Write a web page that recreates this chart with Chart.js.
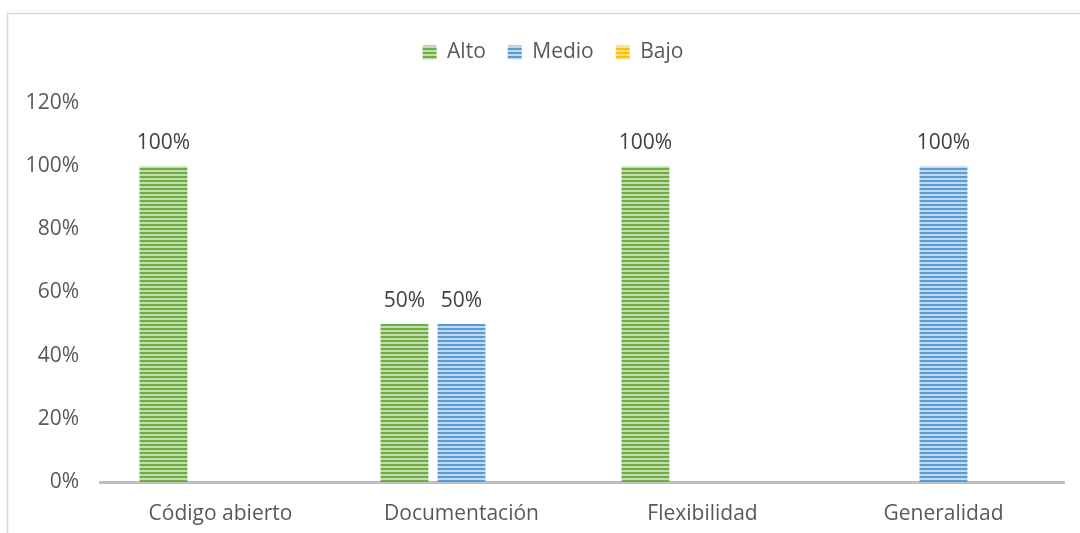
<!DOCTYPE html>
<html>
<head>
<meta charset="utf-8">
<script src="https://cdn.jsdelivr.net/npm/chart.js@4.4.1/dist/chart.umd.min.js"></script>
<style>
  html, body { margin: 0; padding: 0; background: #ffffff; }
  #wrap { position: relative; width: 1080px; height: 533px; }
</style>
</head>
<body>
<div id="wrap"><canvas id="c" width="1080" height="533"></canvas></div>
<script>
// Categories and per-level shares
const categories = ['Código abierto', 'Documentación', 'Flexibilidad', 'Generalidad'];
const alto  = [1.0, 0.5, 1.0, 0.0];
const medio = [0.0, 0.5, 0.0, 1.0];
const bajo  = [0.0, 0.0, 0.0, 0.0];
const seriesNames = ['Alto', 'Medio', 'Bajo'];

const FONT = '"Open Sans", Lato, sans-serif';
const FONT_SIZE = 21;

// Horizontal stripe fill for the bars
function stripes(dark, light) {
  const p = document.createElement('canvas');
  p.width = 4; p.height = 4;
  const g = p.getContext('2d');
  g.fillStyle = light; g.fillRect(0, 0, 4, 4);
  g.fillStyle = dark;  g.fillRect(0, 0, 4, 2);
  return g.createPattern(p, 'repeat');
}
const ctx = document.getElementById('c').getContext('2d');
const greenFill  = stripes('#70AD47', '#c3dfae');
const blueFill   = stripes('#5B9BD5', '#c0d9f0');
const yellowFill = stripes('#FFC000', '#ffe38a');

// Outer frame lines (top and left)
const framePlugin = {
  id: 'frame',
  beforeDraw(chart) {
    const c = chart.ctx;
    c.save();
    c.strokeStyle = '#d9d9d9';
    c.lineWidth = 1.5;
    c.beginPath();
    c.moveTo(7.5, 533);
    c.lineTo(7.5, 13.5);
    c.lineTo(1080, 13.5);
    c.stroke();
    c.restore();
  }
};

// Value labels above non-zero bars
const valueLabels = {
  id: 'valueLabels',
  afterDatasetsDraw(chart) {
    const c = chart.ctx;
    c.save();
    c.font = FONT_SIZE + 'px ' + FONT;
    c.fillStyle = '#404040';
    c.textAlign = 'center';
    c.textBaseline = 'middle';
    chart.data.datasets.forEach((ds, i) => {
      const meta = chart.getDatasetMeta(i);
      meta.data.forEach((bar, j) => {
        const v = ds.data[j];
        if (v > 0) {
          c.fillText(Math.round(v * 100) + '%', bar.x, bar.y - 23);
        }
      });
    });
    c.restore();
  }
};

// Fixed legend band height; legend row nudged to sit over the plot centre
const legendBand = {
  id: 'legendBand',
  beforeInit(chart) {
    const origFit = chart.legend.fit;
    chart.legend.fit = function () {
      origFit.call(this);
      this.height = 90;
    };
  },
  afterLayout(chart) {
    const lg = chart.legend;
    lg.left += 21; lg.right += 21;
    lg.top += 7;  lg.bottom += 7;
  }
};

new Chart(ctx, {
  type: 'bar',
  data: {
    labels: categories,
    datasets: [
      { label: seriesNames[0], data: alto,  backgroundColor: greenFill },
      { label: seriesNames[1], data: medio, backgroundColor: blueFill },
      { label: seriesNames[2], data: bajo,  backgroundColor: yellowFill }
    ]
  },
  options: {
    responsive: false,
    animation: false,
    layout: { padding: { top: 13, right: 16, bottom: 0, left: 0 } },
    datasets: { bar: { categoryPercentage: 0.71, barPercentage: 0.84 } },
    plugins: {
      legend: {
        position: 'top',
        align: 'center',
        labels: {
          boxWidth: 14,
          boxHeight: 14,
          padding: 22,
          color: '#595959',
          font: { family: FONT, size: FONT_SIZE }
        }
      },
      tooltip: { enabled: false }
    },
    scales: {
      x: {
        afterFit(scale) { scale.height = 51; },
        grid: { display: false, drawTicks: false },
        border: { display: true, color: '#bfbfbf', width: 3 },
        ticks: { color: '#595959', padding: 19, font: { family: FONT, size: FONT_SIZE } }
      },
      y: {
        min: 0,
        max: 1.2,
        afterFit(scale) { scale.width = 100; },
        grid: { display: false, drawTicks: false },
        border: { display: false },
        ticks: {
          stepSize: 0.2,
          padding: 21,
          color: '#595959',
          font: { family: FONT, size: FONT_SIZE },
          callback: v => Math.round(v * 100) + '%'
        }
      }
    }
  },
  plugins: [framePlugin, valueLabels, legendBand]
});
</script>
</body>
</html>
